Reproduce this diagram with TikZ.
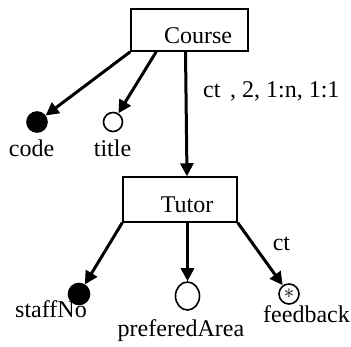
\documentclass[tikz,border=0pt]{standalone}
\usepackage{fontspec}
\setmainfont{Liberation Serif}
\usetikzlibrary{arrows.meta,calc,shapes.geometric}
\begin{document}
\begin{tikzpicture}[x=1pt,y=-1pt,
  box/.style={draw,line width=1.5pt,rectangle,inner sep=0pt},
  lbl/.style={anchor=base,inner sep=0pt,font=\fontsize{24}{28}\selectfont},
  attr/.style={circle,draw,line width=1.6pt,inner sep=0pt,minimum size=20pt},
  arr/.style={line width=3pt,-{Triangle[length=13pt,width=13pt]}}]
\useasboundingbox (0,0) rectangle (351,346);
% entity boxes
\node[box,minimum width=117pt,minimum height=42pt] (course) at (189.5,30) {};
\node[lbl] (coursetext) at (198,43) {Course};
\node[box,minimum width=114pt,minimum height=45pt] (tutor) at (180,199.5) {};
\node[lbl] (tutortext) at (187,212) {Tutor};
% attributes of Course
\node[attr,fill=black] (code) at (37,122) {};
\node[lbl] (codetext) at (31.5,156) {code};
\node[attr,minimum size=19pt] (title) at (113,122) {};
\node[lbl] (titletext) at (112.5,156) {title};
% attributes of Tutor
\node[attr,fill=black,minimum size=21pt] (staffno) at (79,294) {};
\node[lbl] (staffnotext) at (51,317) {staffNo};
\node[ellipse,draw,line width=1.6pt,inner sep=0pt,minimum width=24pt,minimum height=28pt] (pref) at (187.5,296) {};
\node[lbl] (preftext) at (181,336) {preferedArea};
\node[attr,minimum size=20pt] (feedback) at (289,294) {};
\node[inner sep=0pt,font=\fontsize{20}{20}\selectfont] (fbstar) at (feedback.center) {$\ast$};
\node[lbl] (feedbacktext) at (306.5,322) {feedback};
% connector labels
\node[lbl,anchor=base west] (rel) at (203,97) {ct\hspace{0.15em} , 2, 1:n, 1:1};
\node[lbl] (ctlbl) at (281.5,250) {ct};
% connectors
\draw[arr] (course.south west) -- (code);
\draw[arr] ($(course.south west)+(26,0)$) -- (title);
\draw[arr] ($(course.south)+(-4,0)$) -- ($(tutor.north)+(7,0)$);
\draw[arr] (tutor.south west) -- (staffno);
\draw[arr] (pref.north |- tutor.south) -- (pref);
\draw[arr] (tutor.south east) -- (feedback);
\end{tikzpicture}
\end{document}
